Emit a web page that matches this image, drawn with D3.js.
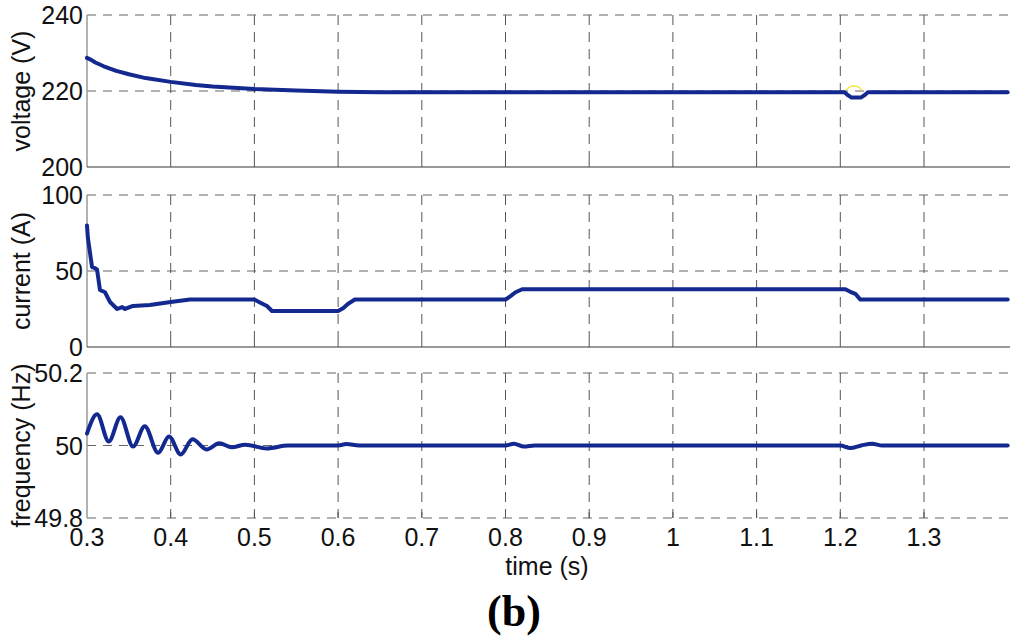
<!DOCTYPE html>
<html><head><meta charset="utf-8">
<script src="https://cdn.jsdelivr.net/npm/d3@7/dist/d3.min.js"></script>
<style>body{margin:0;background:#fff}svg{display:block}</style>
</head><body>
<svg id="c" width="1024" height="642"></svg>
<script>
const xTicks = [0.3,0.4,0.5,0.6,0.7,0.8,0.9,1,1.1,1.2,1.3];
const voltTicks = [200,220,240];
const currTicks = [0,50,100];
const freqTicks = [49.8,50,50.2];

const voltT = [0.3,0.305,0.31,0.32,0.335,0.35,0.37,0.4,0.43,0.45,0.5,0.55,0.6,0.65,1.205,1.209,1.213,1.225,1.229,1.233,1.4];
const voltV = [228.7,228.2,227.5,226.5,225.3,224.4,223.4,222.4,221.6,221.2,220.5,220.1,219.8,219.7,219.7,218.9,218.3,218.3,218.9,219.7,219.7];
const voltYT = [1.207,1.211,1.216,1.222,1.226];
const voltYV = [220.2,221.0,221.3,221.0,220.2];

const currT = [0.3,0.301,0.306,0.309,0.312,0.3155,0.3215,0.3275,0.336,0.342,0.345,0.355,0.375,0.4,0.423,0.5,0.506,0.515,0.521,0.6,0.606,0.612,0.62,0.8,0.806,0.812,0.82,1.206,1.212,1.218,1.224,1.4];
const currV = [80,72,52.6,52,51,37.5,36,29.6,25,26.3,25,27,27.6,29.6,31.2,31.2,29.5,27,23.7,23.7,25.5,28.5,31.2,31.2,33.5,36,38,38,36.3,35,31.2,31.2];

const freqT = [0.3,0.312,0.326,0.34,0.355,0.369,0.385,0.398,0.412,0.426,0.443,0.458,0.473,0.489,0.515,0.54,0.6,0.61,0.625,0.8,0.81,0.822,0.835,1.2,1.212,1.225,1.238,1.25,1.4];
const freqV = [50.033,50.086,50.011,50.078,49.997,50.053,49.98,50.025,49.975,50.017,49.989,50.006,49.995,50.002,49.992,50.0,50.0,50.004,50.0,50.0,50.005,49.997,50.0,50.0,49.993,50.0,50.005,50.0,50.0];

const svg = d3.select("#c");
const L = 87, R = 1010;
const x = d3.scaleLinear().domain([0.3,1.4]).range([L, L + 1.1*837]);
const lineColor = "#13298f";
const font = "Liberation Sans, Arial, sans-serif";
const fs = 25;

const panels = [
  {top:15, bot:167, dom:[200,240], ticks:voltTicks, label:"voltage (V)", T:voltT, V:voltV, fmt:d=>d, curve:d3.curveLinear},
  {top:195, bot:347, dom:[0,100], ticks:currTicks, label:"current (A)", T:currT, V:currV, fmt:d=>d, curve:d3.curveLinear},
  {top:373, bot:518, dom:[49.8,50.2], ticks:freqTicks, label:"frequency (Hz)", T:freqT, V:freqV, fmt:d=>d===50?"50":d.toFixed(1), curve:d3.curveMonotoneX, last:true}
];

panels.forEach((p,i)=>{
  const y = d3.scaleLinear().domain(p.dom).range([p.bot, p.top]);
  const g = svg.append("g");
  g.selectAll(".hg").data(p.ticks.filter(t=>p.last || t!==p.dom[0])).join("line")
    .attr("x1",L).attr("x2",R).attr("y1",d=>y(d)).attr("y2",d=>y(d))
    .attr("stroke","#666").attr("stroke-width",1).attr("stroke-dasharray","9,7");
  g.selectAll(".vg").data(xTicks.slice(1)).join("line")
    .attr("x1",d=>x(d)).attr("x2",d=>x(d)).attr("y1",p.top).attr("y2",p.bot)
    .attr("stroke","#555").attr("stroke-width",1).attr("stroke-dasharray","10,7");
  g.append("line").attr("x1",L).attr("x2",L).attr("y1",p.top).attr("y2",p.bot)
    .attr("stroke","#999").attr("stroke-width",1.5);
  if(!p.last){
    g.append("line").attr("x1",L).attr("x2",R).attr("y1",p.bot).attr("y2",p.bot)
      .attr("stroke","#333").attr("stroke-width",1.2);
  }
  g.selectAll(".tk").data(xTicks.slice(1)).join("line")
    .attr("x1",d=>x(d)).attr("x2",d=>x(d)).attr("y1",p.bot).attr("y2",p.bot-6)
    .attr("stroke","#555").attr("stroke-width",1);
  g.selectAll(".yl").data(p.ticks).join("text")
    .attr("x",83).attr("y",d=>y(d)).attr("dy","0.36em").attr("text-anchor","end")
    .attr("font-family",font).attr("font-size",fs).attr("fill","#111").text(p.fmt);
  g.append("text").attr("transform",`translate(30,${(p.top+p.bot)/2}) rotate(-90)`)
    .attr("text-anchor","middle").attr("font-family",font).attr("font-size",fs).attr("fill","#111")
    .text(p.label);
  if(i===0){
    g.append("path").datum(voltYT.map((t,k)=>[t,voltYV[k]]))
      .attr("d",d3.line().x(d=>x(d[0])).y(d=>y(d[1])).curve(d3.curveCatmullRom))
      .attr("fill","none").attr("stroke","#f3e94a").attr("stroke-width",1.5);
  }
  g.append("path").datum(p.T.map((t,k)=>[t,p.V[k]]))
    .attr("d",d3.line().x(d=>x(d[0])).y(d=>y(d[1])).curve(p.curve))
    .attr("fill","none").attr("stroke",lineColor).attr("stroke-width",4)
    .attr("stroke-linejoin","round").attr("stroke-linecap","round");
  if(p.last){
    g.selectAll(".xl").data(xTicks).join("text")
      .attr("x",d=>x(d)).attr("y",546).attr("text-anchor","middle")
      .attr("font-family",font).attr("font-size",fs).attr("fill","#111").text(d=>d);
  }
});

svg.append("text").attr("x",547).attr("y",575).attr("text-anchor","middle")
  .attr("font-family",font).attr("font-size",25).attr("fill","#111").text("time (s)");
svg.append("text").attr("x",514).attr("y",626).attr("text-anchor","middle")
  .attr("font-family","Liberation Serif, Times New Roman, serif").attr("font-weight","bold")
  .attr("font-size",44).attr("fill","#000").text("(b)");
</script>
</body></html>
